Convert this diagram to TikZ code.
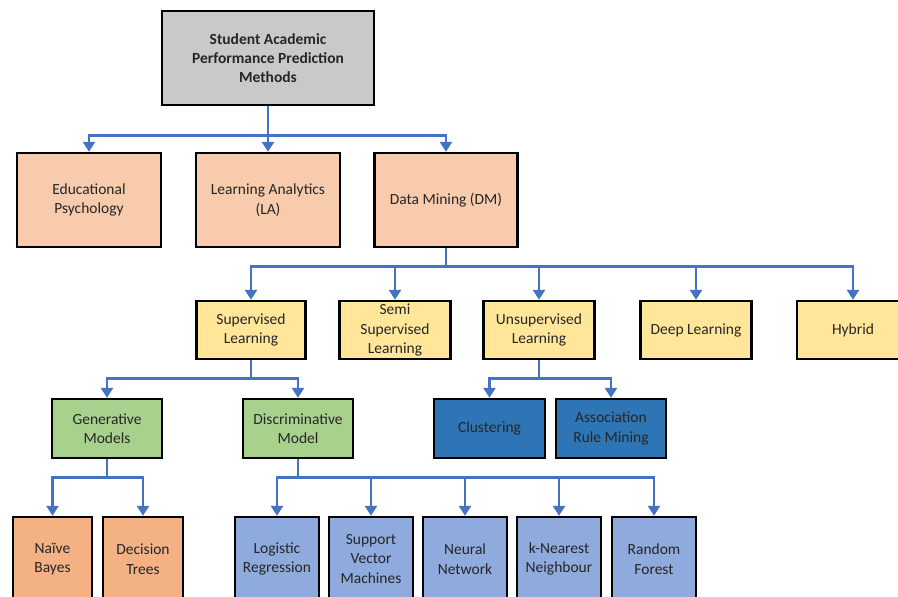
\documentclass[tikz,border=0pt]{standalone}
\usepackage{fontspec}
\setmainfont{Carlito}
\usetikzlibrary{arrows.meta}

\definecolor{rootgrey}{HTML}{C9C9C9}
\definecolor{peach}{HTML}{F8CBAD}
\definecolor{sand}{HTML}{FFE699}
\definecolor{leaf}{HTML}{A9D18E}
\definecolor{deepblue}{HTML}{2E75B6}
\definecolor{salmon}{HTML}{F4B183}
\definecolor{skyblue}{HTML}{8FAADC}
\definecolor{linkblue}{HTML}{4472C4}

\begin{document}
\begin{tikzpicture}[x=1pt,y=-1pt,
  box/.style={draw,line width=2.4pt,align=center,inner sep=2pt,text=black!85,
    font=\fontsize{15.5}{19.5}\selectfont},
  link/.style={draw=linkblue,line width=2.6pt,-{Triangle[width=12pt,length=10pt]}}]
\clip (0,0) rectangle (898,597);

% level 0 and 1
\node[box,fill=rootgrey,minimum width=212pt,minimum height=94pt,
  font=\bfseries\fontsize{15.5}{19}\selectfont] (root) at (268,58)
  {Student Academic\\Performance Prediction\\Methods};
\node[box,fill=peach,minimum width=144pt,minimum height=94pt] (edu) at (89,200) {Educational\\Psychology};
\node[box,fill=peach,minimum width=144pt,minimum height=94pt] (la) at (268,200) {Learning Analytics\\(LA)};
\node[box,fill=peach,minimum width=143pt,minimum height=94pt] (dm) at (446,200) {Data Mining (DM)};

% level 2
\node[box,fill=sand,minimum width=109pt,minimum height=58pt] (sup) at (251,330) {Supervised\\Learning};
\node[box,fill=sand,minimum width=111pt,minimum height=58pt] (semi) at (395,330) {Semi\\Supervised\\Learning};
\node[box,fill=sand,minimum width=111pt,minimum height=58pt] (unsup) at (539,330) {Unsupervised\\Learning};
\node[box,fill=sand,minimum width=111pt,minimum height=58pt] (deep) at (696,330) {Deep Learning};
\node[box,fill=sand,minimum width=112pt,minimum height=58pt] (hyb) at (853,330) {Hybrid};

% level 3
\node[box,fill=leaf,minimum width=110pt,minimum height=59pt] (gen) at (107,428.5) {Generative\\Models};
\node[box,fill=leaf,minimum width=110pt,minimum height=59pt] (disc) at (298,428.5) {Discriminative\\Model};
\node[box,fill=deepblue,minimum width=111pt,minimum height=59pt] (clus) at (489.5,428.5) {Clustering};
\node[box,fill=deepblue,minimum width=110pt,minimum height=59pt] (assoc) at (611,428.5) {Association\\Rule Mining};

% level 4
\node[box,fill=salmon,minimum width=79pt,minimum height=84pt] (nb) at (52.5,559) {Naïve\\Bayes};
\node[box,fill=salmon,minimum width=80pt,minimum height=84pt] (dt) at (143,559) {Decision\\Trees};
\node[box,fill=skyblue,minimum width=84pt,minimum height=84pt] (lr) at (277,559) {Logistic\\Regression};
\node[box,fill=skyblue,minimum width=84pt,minimum height=84pt] (svm) at (371,559) {Support\\Vector\\Machines};
\node[box,fill=skyblue,minimum width=84pt,minimum height=84pt] (nn) at (465,559) {Neural\\Network};
\node[box,fill=skyblue,minimum width=84pt,minimum height=84pt] (knn) at (559,559) {k-Nearest\\Neighbour};
\node[box,fill=skyblue,minimum width=84pt,minimum height=84pt] (rf) at (654,559) {Random\\Forest};

% connectors
\foreach \c in {edu,la,dm}
  \draw[link] (root.south) -- ++(0,29) -| (\c.north);
\foreach \c in {sup,semi,unsup,deep,hyb}
  \draw[link] (dm.south) -- ++(0,18) -| (\c.north);
\foreach \c in {gen,disc}
  \draw[link] (sup.south) -- ++(0,18) -| (\c.north);
\foreach \c in {clus,assoc}
  \draw[link] (unsup.south) -- ++(0,18) -| (\c.north);
\foreach \c in {nb,dt}
  \draw[link] (gen.south) -- ++(0,18) -| (\c.north);
\foreach \c in {lr,svm,nn,knn,rf}
  \draw[link] (disc.south) -- ++(0,18) -| (\c.north);
\end{tikzpicture}
\end{document}
